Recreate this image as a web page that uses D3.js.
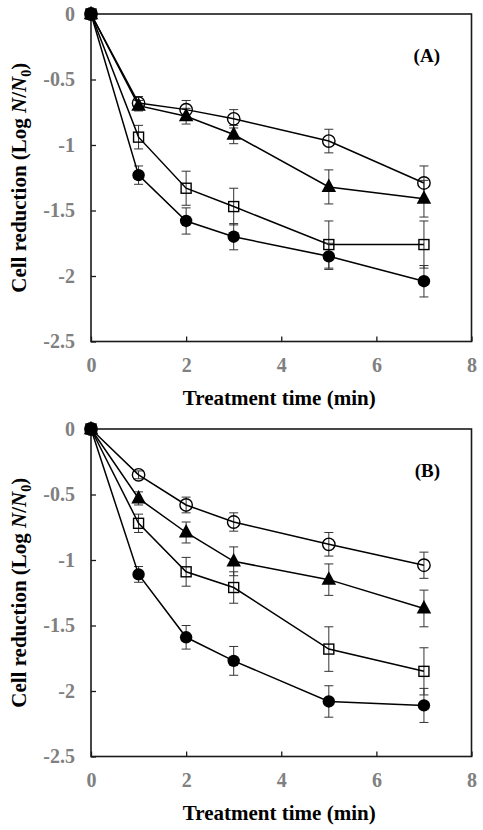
<!DOCTYPE html>
<html><head><meta charset="utf-8">
<script src="https://cdn.jsdelivr.net/npm/d3@7"></script>
<style>body{margin:0;background:#fff;}svg{display:block;}</style>
</head><body>
<svg id="chart" width="483" height="830"></svg>
<script>
const times = [0, 1, 2, 3, 5, 7];
const xTicks = [0, 2, 4, 6, 8];
const yTicks = [0, -0.5, -1, -1.5, -2, -2.5];
const seriesNames = ["openCircle", "triangle", "openSquare", "filledCircle"];

// Panel A
const openCircleA = [0, -0.68, -0.73, -0.80, -0.97, -1.29];
const openCircleAErr = [0, 0.05, 0.07, 0.07, 0.09, 0.13];
const triangleA = [0, -0.70, -0.78, -0.92, -1.32, -1.41];
const triangleAErr = [0, 0.04, 0.06, 0.07, 0.13, 0.14];
const openSquareA = [0, -0.94, -1.33, -1.47, -1.76, -1.76];
const openSquareAErr = [0, 0.09, 0.13, 0.14, 0.18, 0.18];
const filledCircleA = [0, -1.23, -1.58, -1.70, -1.85, -2.04];
const filledCircleAErr = [0, 0.07, 0.10, 0.10, 0.10, 0.12];

// Panel B
const openCircleB = [0, -0.35, -0.58, -0.71, -0.88, -1.04];
const openCircleBErr = [0, 0.03, 0.06, 0.07, 0.09, 0.10];
const triangleB = [0, -0.53, -0.79, -1.01, -1.15, -1.37];
const triangleBErr = [0, 0.05, 0.08, 0.11, 0.12, 0.14];
const openSquareB = [0, -0.72, -1.09, -1.21, -1.68, -1.85];
const openSquareBErr = [0, 0.07, 0.11, 0.12, 0.17, 0.18];
const filledCircleB = [0, -1.11, -1.59, -1.77, -2.08, -2.11];
const filledCircleBErr = [0, 0.06, 0.09, 0.11, 0.12, 0.13];

const panels = [
  { label: "(A)", top: 14, bottom: 341.5,
    series: [[openCircleA, openCircleAErr], [triangleA, triangleAErr], [openSquareA, openSquareAErr], [filledCircleA, filledCircleAErr]] },
  { label: "(B)", top: 429, bottom: 756.5,
    series: [[openCircleB, openCircleBErr], [triangleB, triangleBErr], [openSquareB, openSquareBErr], [filledCircleB, filledCircleBErr]] }
];

const svg = d3.select("#chart");
const left = 91, right = 471.5;
const serif = "'Liberation Serif','Times New Roman',serif";

function marker(g, type, cx, cy) {
  if (type === "openCircle") {
    g.append("circle").attr("cx", cx).attr("cy", cy).attr("r", 6.2)
      .attr("fill", "none").attr("stroke", "#000").attr("stroke-width", 1.4);
  } else if (type === "filledCircle") {
    g.append("circle").attr("cx", cx).attr("cy", cy).attr("r", 6.2).attr("fill", "#000");
  } else if (type === "openSquare") {
    g.append("rect").attr("x", cx - 5).attr("y", cy - 5).attr("width", 10).attr("height", 10)
      .attr("fill", "none").attr("stroke", "#000").attr("stroke-width", 1.4);
  } else {
    const h = 13.5, w = 14.5;
    g.append("path").attr("d", `M${cx},${cy - h * 0.62}L${cx + w / 2},${cy + h * 0.38}L${cx - w / 2},${cy + h * 0.38}Z`)
      .attr("fill", "#000");
  }
}

panels.forEach(p => {
  const x = d3.scaleLinear().domain([0, 8]).range([left, right]);
  const y = d3.scaleLinear().domain([-2.5, 0]).range([p.bottom, p.top]);
  const g = svg.append("g");

  // Frame
  g.append("rect").attr("x", left).attr("y", p.top).attr("width", right - left).attr("height", p.bottom - p.top)
    .attr("fill", "none").attr("stroke", "#1a1a1a").attr("stroke-width", 1.6);

  // X axis (ticks inward)
  const xa = g.append("g").attr("transform", `translate(0,${p.bottom})`)
    .call(d3.axisBottom(x).tickValues(xTicks).tickSize(-5).tickPadding(16).tickFormat(d3.format("d")));
  xa.select(".domain").remove();
  xa.selectAll(".tick line").attr("stroke", "#1a1a1a").attr("stroke-width", 1.3);
  xa.selectAll(".tick text").attr("font-family", serif).attr("font-size", 20).attr("font-weight", "bold").attr("fill", "#808080");

  // Y axis (ticks inward)
  const ya = g.append("g").attr("transform", `translate(${left},0)`)
    .call(d3.axisLeft(y).tickValues(yTicks).tickSize(-5).tickPadding(16).tickFormat(d => d === 0 ? "0" : String(d)));
  ya.select(".domain").remove();
  ya.selectAll(".tick line").attr("stroke", "#1a1a1a").attr("stroke-width", 1.3);
  ya.selectAll(".tick text").attr("font-family", serif).attr("font-size", 20).attr("font-weight", "bold").attr("fill", "#808080");

  // Axis titles
  g.append("text").attr("x", (left + right) / 2 - 2).attr("y", p.bottom + 63)
    .attr("text-anchor", "middle").attr("font-family", serif).attr("font-size", 21).attr("font-weight", "bold")
    .attr("fill", "#000").text("Treatment time (min)");
  const yl = g.append("text").attr("transform", `translate(26,${(p.top + p.bottom) / 2}) rotate(-90)`)
    .attr("text-anchor", "middle").attr("font-family", serif).attr("font-size", 21).attr("font-weight", "bold").attr("fill", "#000");
  yl.append("tspan").text("Cell reduction (Log ");
  yl.append("tspan").attr("font-style", "italic").text("N");
  yl.append("tspan").text("/");
  yl.append("tspan").attr("font-style", "italic").text("N");
  yl.append("tspan").attr("font-size", 14).attr("dy", 5).text("0");
  yl.append("tspan").attr("dy", -5).text(")");

  // Panel label
  g.append("text").attr("x", 440).attr("y", p.top + 48).attr("text-anchor", "end")
    .attr("font-family", serif).attr("font-size", 19).attr("font-weight", "bold").text(p.label);

  const line = d3.line().x((d, i) => x(times[i])).y(d => y(d));

  p.series.forEach(([vals, errs], si) => {
    vals.forEach((v, i) => {
      if (errs[i] <= 0) return;
      const cx = x(times[i]), y1 = y(v + errs[i]), y2 = y(v - errs[i]);
      g.append("line").attr("x1", cx).attr("x2", cx).attr("y1", y1).attr("y2", y2).attr("stroke", "#333").attr("stroke-width", 1);
      [y1, y2].forEach(yy => g.append("line").attr("x1", cx - 4.5).attr("x2", cx + 4.5).attr("y1", yy).attr("y2", yy)
        .attr("stroke", "#333").attr("stroke-width", 1));
    });
    g.append("path").datum(vals).attr("d", line).attr("fill", "none").attr("stroke", "#000").attr("stroke-width", 1.5);
  });
  p.series.forEach(([vals], si) => {
    vals.forEach((v, i) => marker(g, seriesNames[si], x(times[i]), y(v)));
  });
});
</script>
</body></html>
